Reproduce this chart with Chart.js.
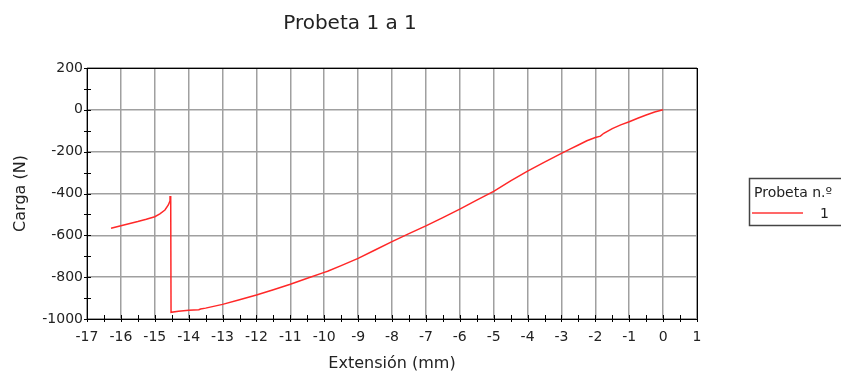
<!DOCTYPE html>
<html>
<head>
<meta charset="utf-8">
<script src="https://cdn.jsdelivr.net/npm/chart.js@4.4.0/dist/chart.umd.min.js"></script>
<style>
  html, body { margin: 0; padding: 0; background: #fff; }
  canvas { display: block; }
</style>
</head>
<body>
<canvas id="grafico" width="841" height="378"></canvas>
<script>
// valori: extensión (mm) e carga (N), probeta 1
const extension = [0, -0.25, -0.5, -0.75, -1.0, -1.25, -1.5, -1.75, -1.85, -2.0, -2.25, -2.5, -2.75, -3.0,
  -3.5, -4.0, -4.5, -5.0, -5.5, -6.0, -6.5, -7.0, -7.5, -8.0, -8.5, -9.0, -9.5, -9.9, -10.0, -10.5,
  -11.0, -11.5, -12.0, -12.5, -13.0, -13.5, -13.65, -13.7, -14.0, -14.3, -14.52, -14.53, -14.55, -14.6,
  -14.7, -14.85, -15.0, -15.25, -15.5, -16.0, -16.29];
const carga = [0, -10, -25, -40, -57, -72, -90, -112, -126, -132, -148, -168, -188, -208,
  -250, -293, -340, -390, -432, -475, -515, -555, -592, -630, -670, -710, -745, -772, -777, -805,
  -834, -860, -885, -908, -930, -948, -952, -956, -958, -963, -968, -412, -435, -455,
  -479, -497, -511, -523, -534, -554, -566];

const titolo = 'Probeta 1 a 1';
const titoloLegenda = 'Probeta n.º';
const etichettaSerie = '1';
const titoloX = 'Extensión (mm)';
const titoloY = 'Carga (N)';

const FONT = 'DejaVu Sans';
const rosso = 'rgb(255, 40, 40)';
const grigio = '#a0a0a0';

// bordo nero, tacche sugli assi, titolo e legenda
const decorazioni = {
  id: 'decorazioni',
  beforeDatasetsDraw(chart) {
    const { ctx, chartArea: a, scales } = chart;
    ctx.save();
    ctx.strokeStyle = '#000';
    ctx.lineWidth = 1;
    ctx.beginPath();
    scales.x.ticks.forEach(t => {
      const px = Math.round(scales.x.getPixelForValue(t.value)) + 0.5;
      ctx.moveTo(px, a.bottom - 4);
      ctx.lineTo(px, a.bottom + 3);
    });
    scales.y.ticks.forEach(t => {
      const py = Math.round(scales.y.getPixelForValue(t.value)) + 0.5;
      ctx.moveTo(a.left - 3, py);
      ctx.lineTo(a.left + 4, py);
    });
    ctx.stroke();
    ctx.strokeRect(Math.round(a.left) + 0.5, Math.round(a.top) + 0.5,
      Math.round(a.right - a.left), Math.round(a.bottom - a.top));
    ctx.restore();
  },
  afterDraw(chart) {
    const { ctx } = chart;
    ctx.save();
    ctx.fillStyle = '#222';
    ctx.font = '20px "' + FONT + '"';
    ctx.textAlign = 'center';
    ctx.textBaseline = 'alphabetic';
    ctx.fillText(titolo, 350, 29);

    // legenda
    const ds = chart.data.datasets[0];
    ctx.strokeStyle = '#444';
    ctx.lineWidth = 1.5;
    ctx.strokeRect(749.5, 178.5, 100, 47);
    ctx.font = '14px "' + FONT + '"';
    ctx.textAlign = 'left';
    ctx.fillText(titoloLegenda, 754, 197);
    ctx.strokeStyle = ds.borderColor;
    ctx.globalAlpha = 0.7;
    ctx.lineWidth = 2;
    ctx.beginPath();
    ctx.moveTo(752, 213);
    ctx.lineTo(803, 213);
    ctx.stroke();
    ctx.globalAlpha = 1;
    ctx.fillText(ds.label, 820, 218);
    ctx.restore();
  }
};

new Chart(document.getElementById('grafico'), {
  type: 'scatter',
  data: {
    datasets: [{
      label: etichettaSerie,
      data: extension.map((x, i) => ({ x: x, y: carga[i] })),
      showLine: true,
      borderColor: rosso,
      borderWidth: 1.5,
      pointRadius: 0,
      tension: 0
    }]
  },
  options: {
    responsive: false,
    animation: false,
    layout: { padding: { left: 0, right: 144, top: 68, bottom: 0 } },
    plugins: {
      legend: { display: false },
      title: { display: false },
      tooltip: { enabled: false }
    },
    scales: {
      x: {
        type: 'linear',
        min: -17,
        max: 1,
        afterFit: s => { s.height = 59; },
        border: { display: false },
        grid: {
          drawTicks: false,
          lineWidth: 1.5,
          color: c => Math.abs(c.tick.value % 1) < 1e-9 ? grigio : 'rgba(0,0,0,0)'
        },
        ticks: {
          stepSize: 0.5,
          autoSkip: false,
          maxRotation: 0,
          padding: 10,
          color: '#222',
          font: { family: FONT, size: 14 },
          callback: v => Math.abs(v % 1) < 1e-9 ? String(v) : ''
        },
        title: {
          display: true,
          text: titoloX,
          color: '#222',
          font: { family: FONT, size: 16 },
          padding: { top: 0, bottom: 5 }
        }
      },
      y: {
        type: 'linear',
        min: -1000,
        max: 200,
        afterFit: s => { s.width = 87; },
        border: { display: false },
        grid: {
          drawTicks: false,
          lineWidth: 1.5,
          color: c => Math.abs(c.tick.value % 200) < 1e-9 ? grigio : 'rgba(0,0,0,0)'
        },
        ticks: {
          stepSize: 100,
          autoSkip: false,
          padding: 4,
          color: '#222',
          font: { family: FONT, size: 14 },
          callback: v => Math.abs(v % 200) < 1e-9 ? String(v) : ''
        },
        title: {
          display: true,
          text: titoloY,
          color: '#222',
          font: { family: FONT, size: 16 },
          padding: { top: 11, bottom: 0 }
        }
      }
    }
  },
  plugins: [decorazioni]
});
</script>
</body>
</html>
